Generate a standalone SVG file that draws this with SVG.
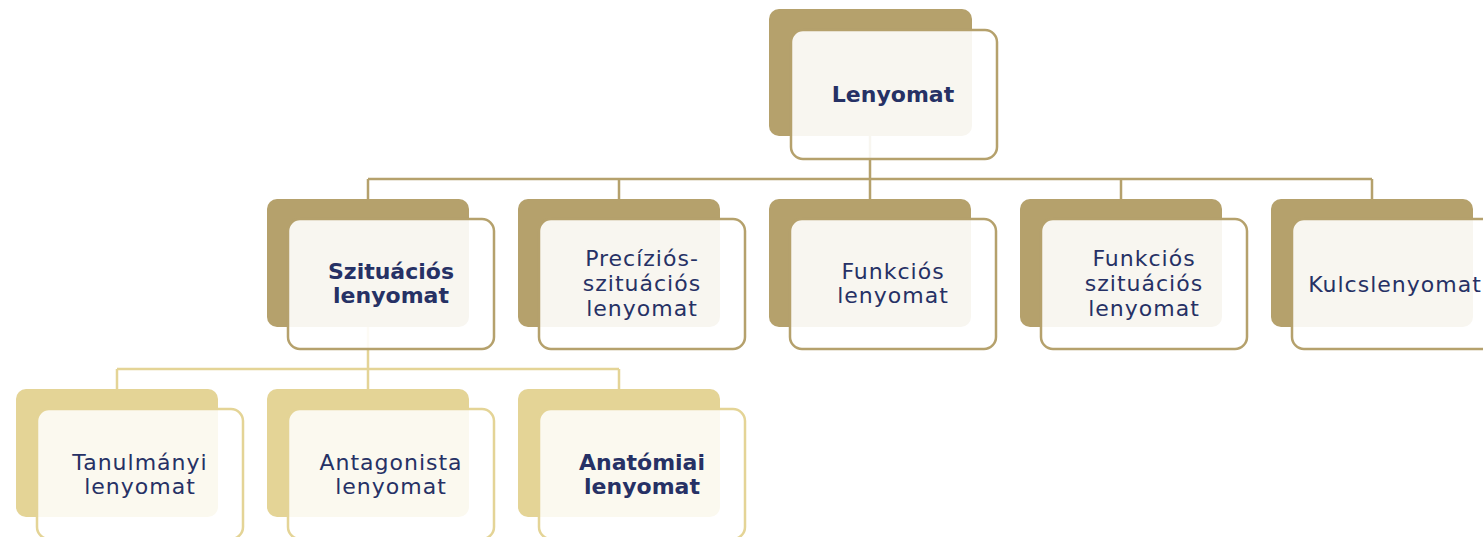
<svg xmlns="http://www.w3.org/2000/svg" width="1483" height="537" viewBox="0 0 1483 537">
<style>
.bg{fill:#ffffff}
.back1{fill:#b5a16c}
.front1{fill:#ffffff;fill-opacity:0.9;stroke:#b5a16c;stroke-width:2.5}
.back2{fill:#e4d496}
.front2{fill:#ffffff;fill-opacity:0.85;stroke:#e4d496;stroke-width:2.5}
.c1{fill:none;stroke:#b5a16c;stroke-width:2.5}
.c2{fill:none;stroke:#e4d496;stroke-width:2.5}
text{font-family:"DejaVu Sans","Noto Sans",sans-serif;font-size:22px;fill:#263165;text-anchor:middle}
.r{letter-spacing:1px}
.b{font-weight:bold}
</style>
<rect class="bg" x="0" y="0" width="1483" height="537"/>
<g id="connectors">
<path class="c1" d="M870 94 V179 M368 179 H1372 M368 179 V199 M619 179 V199 M870 179 V199 M1121 179 V199 M1372 179 V199"/>
<path class="c2" d="M368 284 V369 M117 369 H619 M117 369 V389 M368 369 V389 M619 369 V389"/>
</g>
<g id="node-lenyomat">
<rect class="back1" x="769" y="9" width="203" height="127" rx="10"/>
<rect class="front1" x="791" y="30" width="206" height="129" rx="12"/>
<text class="b" x="893" y="102">Lenyomat</text>
</g>
<g id="node-szituacios">
<rect class="back1" x="267" y="199" width="202" height="128" rx="10"/>
<rect class="front1" x="288" y="219" width="206" height="130" rx="12"/>
<text class="b" x="391" y="279">Szituációs</text>
<text class="b" x="391" y="303">lenyomat</text>
</g>
<g id="node-precizios">
<rect class="back1" x="518" y="199" width="202" height="128" rx="10"/>
<rect class="front1" x="539" y="219" width="206" height="130" rx="12"/>
<text class="r" x="642" y="266">Precíziós-</text>
<text class="r" x="642" y="291">szituációs</text>
<text class="r" x="642" y="316">lenyomat</text>
</g>
<g id="node-funkcios">
<rect class="back1" x="769" y="199" width="202" height="128" rx="10"/>
<rect class="front1" x="790" y="219" width="206" height="130" rx="12"/>
<text class="r" x="893" y="279">Funkciós</text>
<text class="r" x="893" y="303">lenyomat</text>
</g>
<g id="node-funkcios-szituacios">
<rect class="back1" x="1020" y="199" width="202" height="128" rx="10"/>
<rect class="front1" x="1041" y="219" width="206" height="130" rx="12"/>
<text class="r" x="1144" y="266">Funkciós</text>
<text class="r" x="1144" y="291">szituációs</text>
<text class="r" x="1144" y="316">lenyomat</text>
</g>
<g id="node-kulcslenyomat">
<rect class="back1" x="1271" y="199" width="202" height="128" rx="10"/>
<rect class="front1" x="1292" y="219" width="206" height="130" rx="12"/>
<text class="r" x="1395" y="292">Kulcslenyomat</text>
</g>
<g id="node-tanulmanyi">
<rect class="back2" x="16" y="389" width="202" height="128" rx="10"/>
<rect class="front2" x="37" y="409" width="206" height="130" rx="12"/>
<text class="r" x="140" y="470">Tanulmányi</text>
<text class="r" x="140" y="494">lenyomat</text>
</g>
<g id="node-antagonista">
<rect class="back2" x="267" y="389" width="202" height="128" rx="10"/>
<rect class="front2" x="288" y="409" width="206" height="130" rx="12"/>
<text class="r" x="391" y="470">Antagonista</text>
<text class="r" x="391" y="494">lenyomat</text>
</g>
<g id="node-anatomiai">
<rect class="back2" x="518" y="389" width="202" height="128" rx="10"/>
<rect class="front2" x="539" y="409" width="206" height="130" rx="12"/>
<text class="b" x="642" y="470">Anatómiai</text>
<text class="b" x="642" y="494">lenyomat</text>
</g>
</svg>
